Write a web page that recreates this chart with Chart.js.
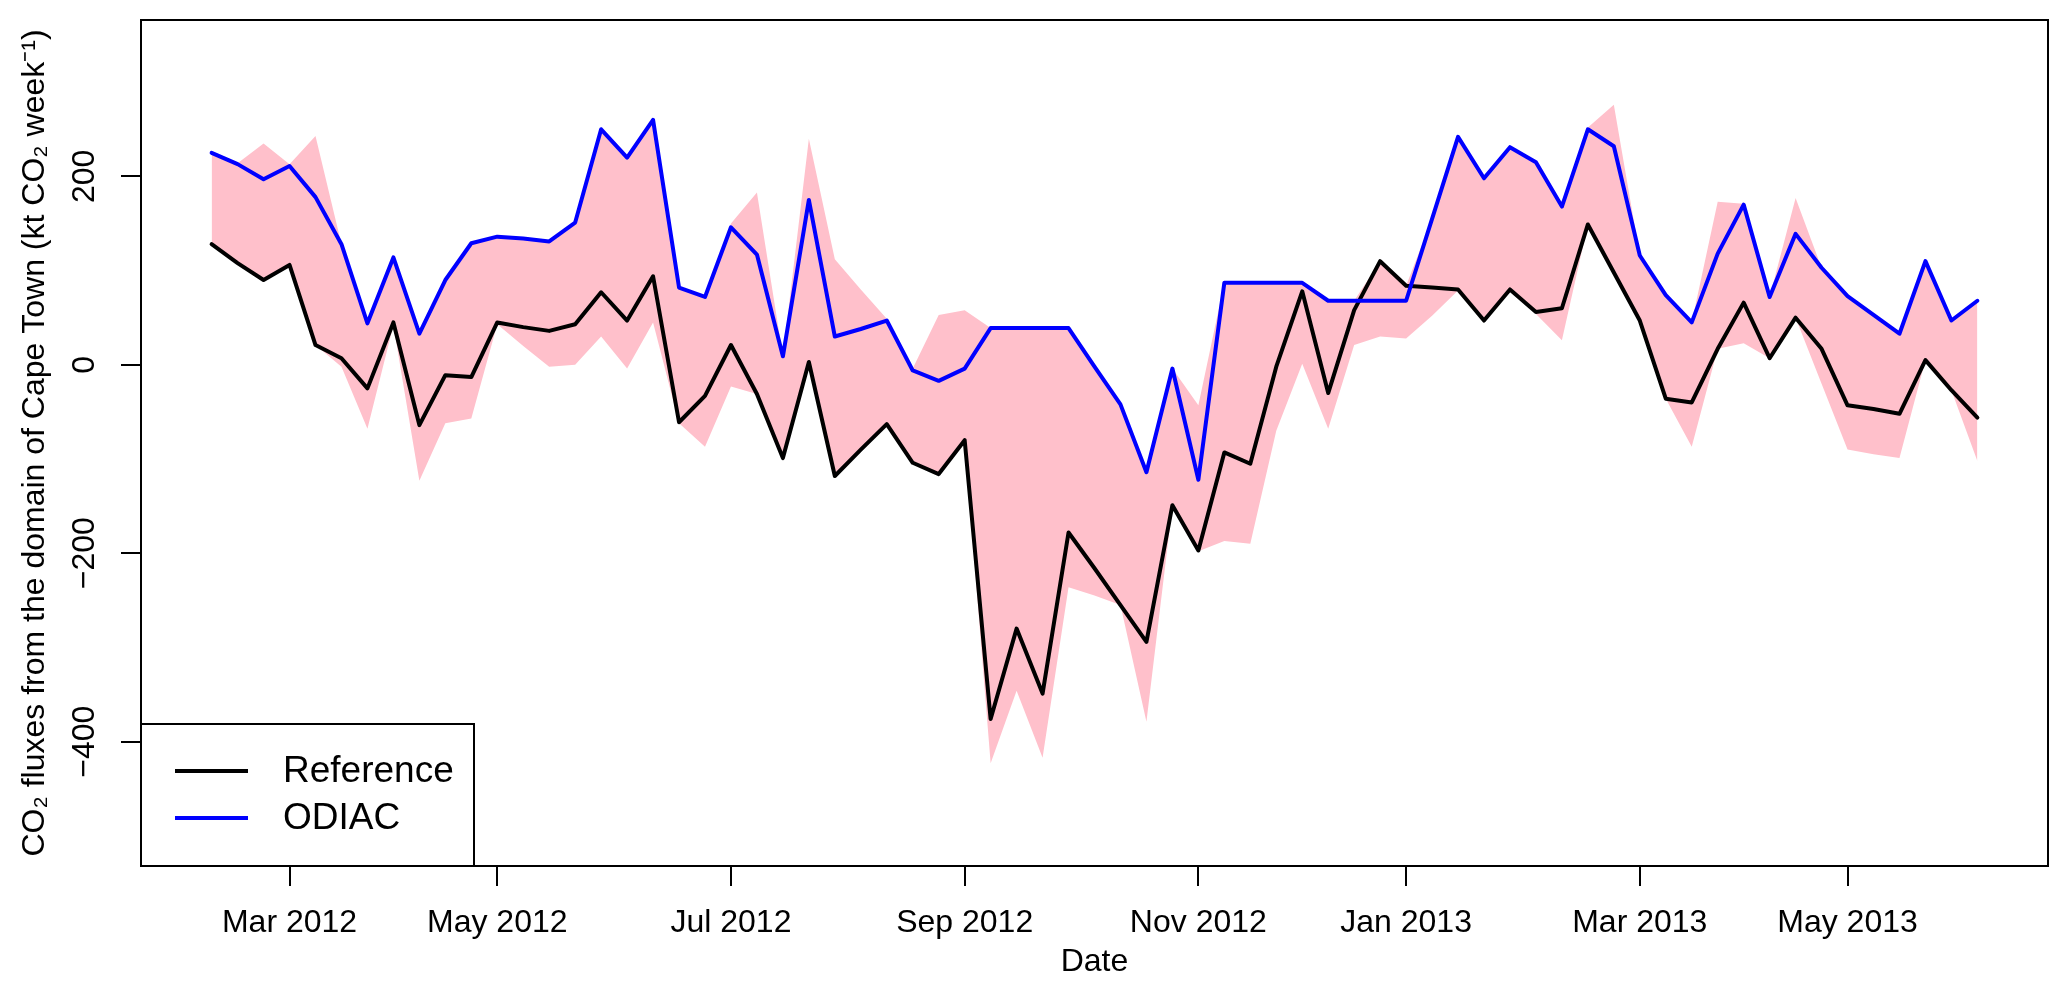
<!DOCTYPE html>
<html>
<head>
<meta charset="utf-8">
<script src="https://cdn.jsdelivr.net/npm/chart.js@4/dist/chart.umd.min.js"></script>
<style>
  html, body { margin: 0; padding: 0; background: #fff; }
  #wrap { width: 2067px; height: 992px; }
</style>
</head>
<body>
<div id="wrap"><canvas id="myChart" width="2067" height="992"></canvas></div>
<script>
// weekly fluxes, kt CO2 per week
const odiac = [225, 213, 197, 211, 178, 128, 44, 114, 33, 90,
  129, 136, 134, 131, 151, 250, 220, 260, 82, 72,
  146, 117, 9, 175, 30, 38, 47, -6, -17, -4,
  39, 39, 39, 39, -2, -42, -114, -4, -122, 87,
  87, 87, 87, 68, 68, 68, 68, 155, 242, 198,
  231, 215, 168, 250, 232, 116, 74, 45, 118, 170,
  72, 139, 103, 73, 53, 33, 110, 47, 68];

const reference = [128, 108, 90, 106, 21, 7, -25, 45, -64, -11,
  -13, 45, 40, 36, 43, 77, 47, 94, -61, -33,
  21, -31, -99, 3, -118, -90, -63, -104, -116, -80,
  -376, -280, -349, -178, -216, -255, -294, -149, -197, -93,
  -105, -2, 78, -30, 58, 110, 84, 82, 80, 47,
  80, 56, 60, 149, 98, 47, -36, -40, 17, 66,
  7, 50, 17, -43, -47, -52, 5, -27, -56];

// pink band (range of estimates)
const bandUpper = [225, 214, 235, 213, 243, 128, 44, 114, 33, 90,
  129, 136, 134, 131, 151, 250, 220, 260, 82, 72,
  150, 183, 9, 240, 112, 80, 49, -4, 53, 58,
  39, 39, 39, 39, -2, -42, -114, -4, -43, 87,
  87, 87, 87, 68, 68, 110, 84, 155, 242, 198,
  231, 215, 168, 252, 276, 116, 74, 45, 173, 171,
  72, 177, 103, 73, 53, 33, 110, 47, 68];

const bandLower = [128, 108, 90, 106, 21, -2, -68, 42, -123, -62,
  -57, 43, 20, -2, 0, 30, -4, 45, -62, -87,
  -23, -31, -99, 3, -118, -90, -63, -104, -116, -80,
  -423, -346, -417, -236, -245, -255, -379, -150, -198, -187,
  -190, -70, 1, -68, 21, 30, 28, 52, 79, 47,
  80, 54, 26, 149, 98, 47, -36, -87, 17, 23,
  7, 50, -20, -90, -95, -99, 5, -27, -102];

const weeks = odiac.map((v, i) => i);   // week number along the x axis

const tickWeeks = [3, 11, 20, 29, 38, 46, 55, 63];
const tickLabels = ['Mar 2012', 'May 2012', 'Jul 2012', 'Sep 2012', 'Nov 2012', 'Jan 2013', 'Mar 2013', 'May 2013'];
const yTicks = [-400, -200, 0, 200];
const yTickLabels = ['\u2212400', '\u2212200', '0', '200'];

const fam = '"Liberation Sans", Arial, sans-serif';
Chart.defaults.font.family = fam;
Chart.defaults.color = '#000';

const pts = arr => arr.map((v, i) => ({ x: weeks[i], y: v }));

// full box round the plot region, like R's bty="o"
const boxPlugin = {
  id: 'box',
  afterDatasetsDraw(chart) {
    const { ctx, chartArea: a } = chart;
    ctx.save();
    ctx.strokeStyle = '#000';
    ctx.lineWidth = 2;
    ctx.strokeRect(a.left, a.top, a.right - a.left, a.bottom - a.top);
    ctx.restore();
  }
};

// legend in the bottom-left corner
const legendPlugin = {
  id: 'cornerLegend',
  afterDraw(chart) {
    const { ctx, chartArea: a } = chart;
    const w = 333, h = 142;
    const x0 = a.left, y0 = a.bottom - h;
    ctx.save();
    ctx.fillStyle = '#fff';
    ctx.fillRect(x0, y0, w, h);
    ctx.strokeStyle = '#000';
    ctx.lineWidth = 2;
    ctx.strokeRect(x0, y0, w, h);
    const items = chart.data.datasets.filter(d => d.inLegend).sort((p, q) => p.inLegend - q.inLegend);
    ctx.font = '37px ' + fam;
    ctx.textBaseline = 'middle';
    ctx.textAlign = 'left';
    items.forEach((d, i) => {
      const y = y0 + 47 + i * 47;
      ctx.strokeStyle = d.borderColor;
      ctx.lineWidth = 4;
      ctx.beginPath();
      ctx.moveTo(x0 + 34, y);
      ctx.lineTo(x0 + 107, y);
      ctx.stroke();
      ctx.fillStyle = '#000';
      ctx.fillText(d.label, x0 + 142, y + 1);
    });
    ctx.restore();
  }
};

const ctx = document.getElementById('myChart').getContext('2d');
new Chart(ctx, {
  type: 'line',
  data: {
    datasets: [
      {
        label: 'ODIAC',
        inLegend: 2,
        data: pts(odiac),
        borderColor: '#0000ff',
        borderWidth: 4,
        pointRadius: 0,
        fill: false
      },
      {
        label: 'Reference',
        inLegend: 1,
        data: pts(reference),
        borderColor: '#000000',
        borderWidth: 4,
        pointRadius: 0,
        fill: false
      },
      {
        label: 'upper',
        data: pts(bandUpper),
        borderWidth: 0,
        borderColor: 'rgba(0,0,0,0)',
        backgroundColor: 'rgb(255,192,203)',
        pointRadius: 0,
        fill: '+1'
      },
      {
        label: 'lower',
        data: pts(bandLower),
        borderWidth: 0,
        borderColor: 'rgba(0,0,0,0)',
        pointRadius: 0,
        fill: false
      }
    ]
  },
  options: {
    responsive: false,
    animation: false,
    devicePixelRatio: 1,
    layout: { padding: { left: 0, top: 20, right: 19, bottom: 0 } },
    elements: {
      line: { tension: 0, borderJoinStyle: 'round', borderCapStyle: 'round' }
    },
    plugins: {
      legend: { display: false },
      tooltip: { enabled: false }
    },
    scales: {
      x: {
        type: 'linear',
        min: -2.72,
        max: 70.72,
        afterBuildTicks: s => { s.ticks = tickWeeks.map(v => ({ value: v })); },
        afterFit: s => { s.height = 126; },
        ticks: {
          autoSkip: false,
          maxRotation: 0,
          minRotation: 0,
          padding: 18,
          color: '#000',
          font: { size: 32 },
          callback: (v, i) => tickLabels[i]
        },
        grid: { display: true, drawOnChartArea: false, drawTicks: true, tickLength: 20, color: '#000', lineWidth: 2 },
        border: { display: false },
        title: { display: true, text: 'Date', color: '#000', font: { size: 32 }, padding: { top: 0, bottom: 11 } }
      },
      y: {
        type: 'linear',
        min: -532,
        max: 366,
        afterBuildTicks: s => { s.ticks = yTicks.map(v => ({ value: v })); },
        afterFit: s => { s.width = 141; },
        ticks: {
          minRotation: 90,
          maxRotation: 90,
          crossAlign: 'center',
          padding: 0,
          color: '#000',
          font: { size: 32 },
          callback: (v, i) => yTickLabels[i]
        },
        grid: { display: true, drawOnChartArea: false, drawTicks: true, tickLength: 20, color: '#000', lineWidth: 2 },
        border: { display: false },
        title: {
          display: true,
          text: 'CO\u2082 fluxes from the domain of Cape Town (kt CO\u2082 week\u207B\u00B9)',
          color: '#000',
          font: { size: 32 },
          padding: { top: 16, bottom: 0 }
        }
      }
    }
  },
  plugins: [boxPlugin, legendPlugin]
});
</script>
</body>
</html>
